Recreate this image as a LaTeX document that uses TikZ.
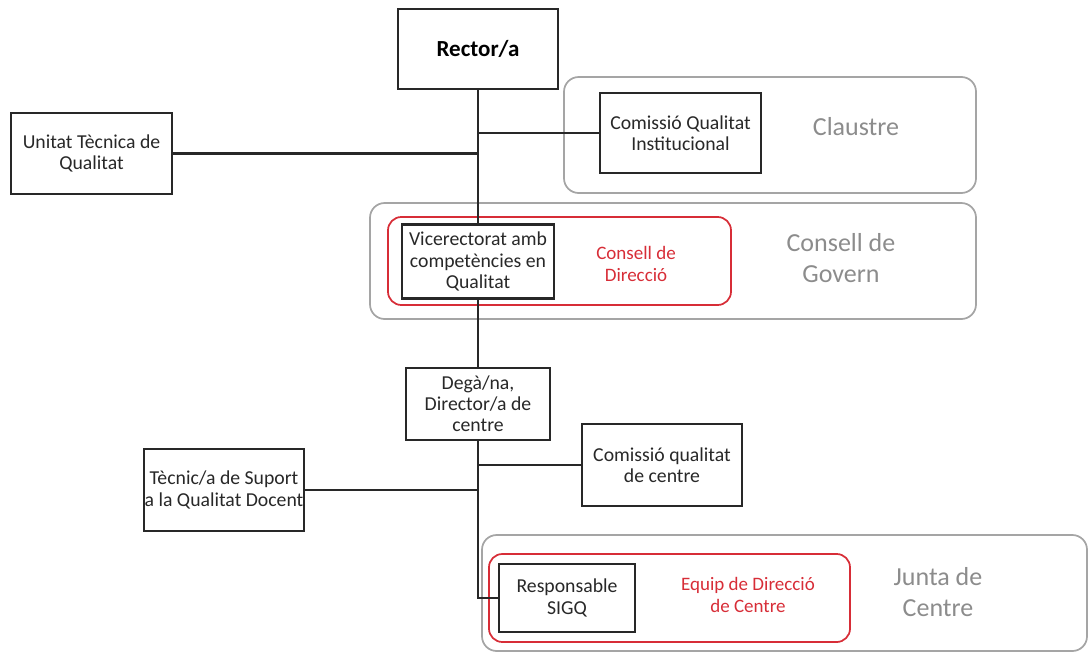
\documentclass[tikz,border=0pt]{standalone}
\usepackage{fontspec}
\setmainfont{Carlito}
\usepackage{xcolor}
\usepackage{tikz}
\usetikzlibrary{calc}
\usetikzlibrary{positioning}

\definecolor{boxgray}{RGB}{40,40,40}
\definecolor{framegray}{RGB}{165,165,165}
\definecolor{labelgray}{RGB}{140,140,140}
\definecolor{redline}{RGB}{215,45,55}

\begin{document}
\begin{tikzpicture}[-,x=0.75pt,y=-0.75pt,semithick]
	\tikzstyle{unit}=[draw=boxgray, line width=1.6pt, fill=white, text=boxgray, align=center, inner sep=0pt, font=\fontsize{14.8}{15.9}\selectfont]
	\tikzstyle{organ}=[draw=framegray, line width=1.3pt, rounded corners=11pt]
	\tikzstyle{comite}=[draw=redline, line width=1.3pt, rounded corners=10pt]
	\tikzstyle{organlabel}=[text=labelgray, align=center, font=\fontsize{19.5}{23.3}\selectfont]
	\tikzstyle{comitelabel}=[text=redline, align=center, font=\fontsize{14.25}{16.5}\selectfont]
	\useasboundingbox (0,0) rectangle (1091,661);

	\draw[organ] (564,77) rectangle (976,193);
	\draw[organ] (370,203) rectangle (976,319);
	\draw[comite] (388,217) rectangle (731,305);
	\draw[organ] (482,535) rectangle (1087,651);
	\draw[comite] (489,554) rectangle (850,642);

	\node[organlabel] (claustre) at (856,127) {Claustre};
	\node[organlabel] (govern) at (841,258) {Consell de\\Govern};
	\node[comitelabel] (direccio) at (636,264) {Consell de\\Direcció};
	\node[organlabel] (junta) at (938,592) {Junta de\\Centre};
	\node[comitelabel] (equip) at (748,595) {Equip de Direcció\\de Centre};

	\node[unit, minimum width=120pt, minimum height=60pt, text=black, font=\fontsize{17.25}{20}\selectfont\bfseries] (rector) at (478,49) {Rector/a};
	\node[unit, minimum width=121pt, minimum height=61pt] (unitat) at (91.5,153.5) {Unitat Tècnica de\\Qualitat};
	\node[unit, minimum width=121pt, minimum height=60pt] (cqi) at (680.5,133) {Comissió Qualitat\\Institucional};
	\node[unit, minimum width=114pt, minimum height=55.5pt] (vice) at (478,261.5) {Vicerectorat amb\\competències en\\Qualitat};
	\node[unit, minimum width=108pt, minimum height=54pt] (dega) at (478,404) {Degà/na,\\Director/a de\\centre};
	\node[unit, minimum width=120pt, minimum height=61.5pt] (cqc) at (662,465) {Comissió qualitat\\de centre};
	\node[unit, minimum width=120pt, minimum height=61.5pt] (tecnic) at (224,490) {Tècnic/a de Suport\\a la Qualitat Docent};
	\node[unit, minimum width=102pt, minimum height=51pt] (resp) at (567,598) {Responsable\\SIGQ};

	\begin{scope}[boxgray, line width=1.6pt]
		\foreach \a/\b in {rector/vice, vice/dega}{
			\draw (\a.south) -- (\b.north);
			}
		\foreach \n/\t in {cqi/rector, unitat/rector, cqc/dega, tecnic/dega}{
			\draw (\n) -- (\t.south |- \n);
			}
		\draw (dega.south) |- (resp.west);
	\end{scope}
\end{tikzpicture}
\end{document}
